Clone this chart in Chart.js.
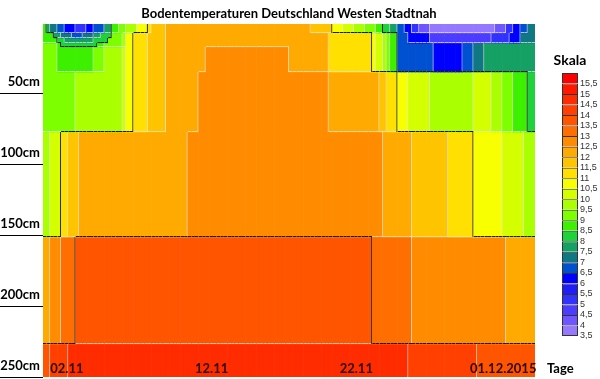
<!DOCTYPE html>
<html><head><meta charset="utf-8">
<script src="https://cdn.jsdelivr.net/npm/chart.js@4/dist/chart.umd.min.js"></script>
<style>
html,body{margin:0;padding:0;background:#fff;}
#wrap{position:relative;width:600px;height:379px;overflow:hidden;}
#main{position:absolute;left:0;top:0;}
#leg{position:absolute;left:540px;top:45px;}
</style></head><body>
<div id="wrap"><canvas id="main" width="600" height="379"></canvas><canvas id="leg" width="60" height="300"></canvas></div>
<script>
// ---------- data ----------
const chartTitle = 'Bodentemperaturen Deutschland Westen Stadtnah';
const legendTitle = 'Skala';
const axisUnitX = 'Tage';
const dayLabels = ['01.11','02.11','03.11','04.11','05.11','06.11','07.11','08.11','09.11','10.11',
  '11.11','12.11','13.11','14.11','15.11','16.11','17.11','18.11','19.11','20.11',
  '21.11','22.11','23.11','24.11','25.11','26.11','27.11','28.11','29.11','30.11',
  '01.12','02.12','03.12','04.12'];
const dateTicks = ['02.11','12.11','22.11','01.12.2015'];
const dateTickDays = [1, 11, 21, 30];
const depthTicks = [50, 100, 150, 200, 250];
const depthMin = 1.5, depthMax = 250;
// depth bands (cm)
const bandTop =    [1.5, 7.8, 11.4, 14.9, 17.7, 35.3, 77.5, 151.5, 226.8];
const bandBottom = [7.8, 11.4, 14.9, 17.7, 35.3, 77.5, 151.5, 226.8, 250];
// temperatures per band: [until day, °C]
const band1 = [[0.28,8.7],[0.62,7.7],[1.04,7.2],[1.52,6.7],[2.21,6.0],[2.90,5.4],[3.59,6.0],[4.15,6.7],[4.77,7.7],[5.32,8.7],[5.87,9.3],[6.57,9.8],[7.19,10.5],[7.60,11.2],[8.57,11.7],[18.45,12.2],[19.97,11.7],[20.87,10.7],[21.56,10.2],[22.25,9.7],[22.94,9.2],[23.50,8.7],[23.98,8.2],[24.46,7.7],[25.02,6.7],[25.50,6.2],[26.06,5.3],[26.75,4.3],[31.24,3.8],[31.93,4.3],[32.48,5.3],[32.96,6.2],[33.52,6.7],[34,7.2]];
const band2 = [[0.83,8.8],[1.31,7.8],[2.00,7.2],[2.70,6.8],[3.39,7.2],[4.08,7.7],[4.63,8.2],[5.53,9.0],[5.87,9.8],[6.36,10.6],[7.26,11.2],[8.43,11.7],[19.83,12.2],[22.74,11.4],[23.08,10.7],[23.43,10.2],[23.77,9.7],[24.12,9.2],[24.46,8.7],[25.36,6.7],[26.75,6.2],[30.89,4.8],[32.28,5.3],[32.96,6.2],[34,7.2]];
const band3 = [[0.97,8.8],[1.52,8.2],[3.59,7.7],[4.49,8.2],[5.53,9.0],[5.87,9.8],[6.36,10.6],[7.26,11.2],[8.43,11.7],[19.83,12.2],[22.74,11.4],[23.08,10.7],[23.43,10.2],[23.77,9.7],[24.12,9.2],[24.46,8.7],[25.36,6.7],[26.75,6.2],[30.89,4.8],[32.28,5.3],[32.96,6.2],[34,7.2]];
const band4 = [[1.04,9.0],[1.31,8.7],[3.80,8.2],[4.15,8.7],[5.53,9.2],[5.87,9.8],[6.36,10.6],[7.26,11.2],[8.43,11.7],[19.83,12.2],[22.74,11.4],[23.08,10.7],[23.43,10.2],[23.77,9.7],[24.12,9.2],[24.46,8.7],[26.95,6.7],[29.03,6.2],[29.86,6.7],[30.54,7.2],[34,7.7]];
const band5 = [[1.04,9.1],[3.46,8.6],[4.15,9.2],[5.53,9.6],[5.87,10.2],[6.36,10.7],[7.26,11.2],[8.43,11.7],[11.33,12.2],[17.07,12.7],[19.83,12.2],[22.74,11.4],[23.08,10.7],[23.43,10.2],[23.77,9.7],[24.12,9.2],[24.46,8.7],[26.95,6.7],[29.03,6.2],[29.86,6.7],[30.54,7.2],[34,7.7]];
const band6 = [[2.35,9.2],[5.53,9.7],[5.87,10.2],[6.36,10.7],[7.26,11.2],[8.43,11.7],[10.85,12.2],[19.83,12.7],[23.15,12.2],[23.84,11.7],[24.53,11.2],[25.36,10.7],[26.75,10.2],[29.65,9.6],[30.89,10.1],[31.79,9.7],[32.48,9.2],[33.45,8.7],[34,8.2]];
const band7 = [[0.62,9.8],[1.24,10.4],[1.87,11.2],[2.49,11.7],[10.02,12.2],[23.43,12.7],[25.50,12.2],[27.92,11.7],[29.86,11.2],[31.72,10.7],[33.31,10.2],[34,9.7]];
const band8 = [[0.48,12.2],[1.31,12.7],[2.21,13.2],[22.74,13.7],[25.50,13.2],[31.93,12.7],[34,12.2]];
const band9 = [[0.48,13.8],[1.66,14.2],[25.36,14.7],[30.06,14.2],[34,13.8]];
// colour scale
const levels = [3.5,4,4.5,5,5.5,6,6.5,7,7.5,8,8.5,9,9.5,10,10.5,11,11.5,12,12.5,13,13.5,14,14.5,15,15.5];
const levelColors = ['#9678FF','#6E55FF','#4B3CFF','#3232FF','#1E1EF5','#0000FF','#0050D2','#0F7882','#15A064','#1ED23C',
  '#3CF000','#7DFF00','#AAFF00','#D4FF00','#F8FF00','#FFE000','#FFC400','#FFAA00','#FF8C00','#FF6E00',
  '#FF5500','#FF4000','#FF2C00','#FF1800','#FF0000'];
const majorLevels = [8.5, 11, 13.5];

// ---------- build ----------
const colsPerDay = 4;
const hours = ['00','06','12','18'];
const columns = dayLabels.flatMap(d => hours.map(h => d + ' ' + h + ':00'));
const bands = [band1, band2, band3, band4, band5, band6, band7, band8, band9];
function expand(segs) {
  return columns.map((_, i) => {
    const c = (i + 0.5) / colsPerDay;
    for (const [until, t] of segs) if (c < until) return t;
    return segs[segs.length - 1][1];
  });
}
function lvl(t) {
  let k = 0;
  for (let i = 0; i < levels.length; i++) if (t >= levels[i]) k = i;
  return k;
}
const crosses = (a, b) => majorLevels.some(m => (a < m) !== (b < m));
const grid = bands.map(expand);
const datasets = [];
const common = {grouped: false, barPercentage: 1, categoryPercentage: 1, borderSkipped: false};
grid.forEach((row, b) => {
  const rng = () => row.map(() => [bandTop[b], bandBottom[b]]);
  datasets.push(Object.assign({data: rng(), backgroundColor: row.map(t => levelColors[lvl(t)]), borderWidth: 0, order: 3}, common));
  const greyBW = row.map((t, i) => ({top: 0, left: 0,
    right: (i < row.length - 1 && lvl(row[i + 1]) !== lvl(t)) ? 1 : 0,
    bottom: (b < grid.length - 1 && lvl(grid[b + 1][i]) !== lvl(t)) ? 1 : 0}));
  datasets.push(Object.assign({data: rng(), backgroundColor: 'rgba(0,0,0,0)', borderColor: 'rgba(228,228,228,0.75)',
    borderWidth: c => greyBW[c.dataIndex], inflateAmount: 0, order: 2}, common));
  const blackBW = row.map((t, i) => ({top: 0, left: 0,
    right: (i < row.length - 1 && crosses(row[i + 1], t)) ? 1 : 0,
    bottom: (b < grid.length - 1 && crosses(grid[b + 1][i], t)) ? 1 : 0}));
  datasets.push(Object.assign({data: rng(), backgroundColor: 'rgba(0,0,0,0)', borderColor: '#1a1a1a',
    borderWidth: c => blackBW[c.dataIndex], inflateAmount: 0, order: 1}, common));
});

const labelPlugin = {
  id: 'axisLabels',
  afterDraw(chart) {
    const {ctx, chartArea, scales: {x, y}} = chart;
    ctx.save();
    ctx.strokeStyle = '#000'; ctx.lineWidth = 1; ctx.fillStyle = '#000';
    ctx.font = 'bold 13px Lato';
    ctx.textAlign = 'right'; ctx.textBaseline = 'alphabetic';
    depthTicks.forEach(d => {
      const py = Math.round(y.getPixelForValue(d)) + 0.5;
      ctx.beginPath(); ctx.moveTo(0, py); ctx.lineTo(chartArea.left, py); ctx.stroke();
      ctx.fillText(d + 'cm', 40, py - 8);
    });
    ctx.textAlign = 'left';
    ctx.fillStyle = '#2a0800';
    dateTicks.forEach((lab, i) => {
      const px = x.getPixelForValue(dateTickDays[i] * colsPerDay) - 9;
      ctx.fillText(lab, px, 373);
    });
    ctx.fillStyle = '#000';
    ctx.fillText(axisUnitX, 547, 373);
    ctx.restore();
  }
};

new Chart(document.getElementById('main'), {
  type: 'bar',
  data: {labels: columns, datasets},
  options: {
    responsive: false, animation: false, events: [],
    layout: {padding: {left: 43, right: 65, top: 0, bottom: 2}},
    plugins: {
      legend: {display: false}, tooltip: {enabled: false},
      title: {display: true, text: chartTitle, color: '#000',
        font: {family: 'Lato', size: 13, weight: 'bold'}, padding: {top: 6, bottom: 2.4}}
    },
    scales: {
      x: {display: false},
      y: {display: false, reverse: true, min: depthMin, max: depthMax}
    }
  },
  plugins: [labelPlugin]
});

const legendTitlePlugin = {
  id: 'legTitle',
  afterDraw(chart) {
    const {ctx, chartArea} = chart;
    ctx.save();
    ctx.font = 'bold 14px Lato'; ctx.fillStyle = '#000';
    ctx.textAlign = 'center'; ctx.textBaseline = 'alphabetic';
    ctx.fillText(legendTitle, (chartArea.left + chartArea.right) / 2, chartArea.top - 8);
    ctx.restore();
  }
};
new Chart(document.getElementById('leg'), {
  type: 'bar',
  data: {labels: [''], datasets: levelColors.map((c, k) => ({
    data: [[levels[k], levels[k] + 0.5]], backgroundColor: c, borderColor: '#333',
    borderWidth: {top: 1, left: 1, right: 1, bottom: k === 0 ? 1 : 0},
    borderSkipped: false, grouped: false, barPercentage: 1, categoryPercentage: 1, inflateAmount: 0}))},
  options: {
    responsive: false, animation: false, events: [],
    layout: {padding: {left: 22, right: 0, top: 28, bottom: 9}},
    plugins: {legend: {display: false}, tooltip: {enabled: false}},
    scales: {
      x: {display: false},
      y: {position: 'right', min: 3.5, max: 16,
        grid: {display: false, drawTicks: false}, border: {display: false},
        afterBuildTicks: s => { s.ticks = levels.map(v => ({value: v})); },
        afterFit: s => { s.width = 22; },
        ticks: {padding: 2, color: '#333', autoSkip: false, font: {family: 'Liberation Sans', size: 9},
          callback: v => String(v).replace('.', ',')}}
    }
  },
  plugins: [legendTitlePlugin]
});
</script>
</body></html>
